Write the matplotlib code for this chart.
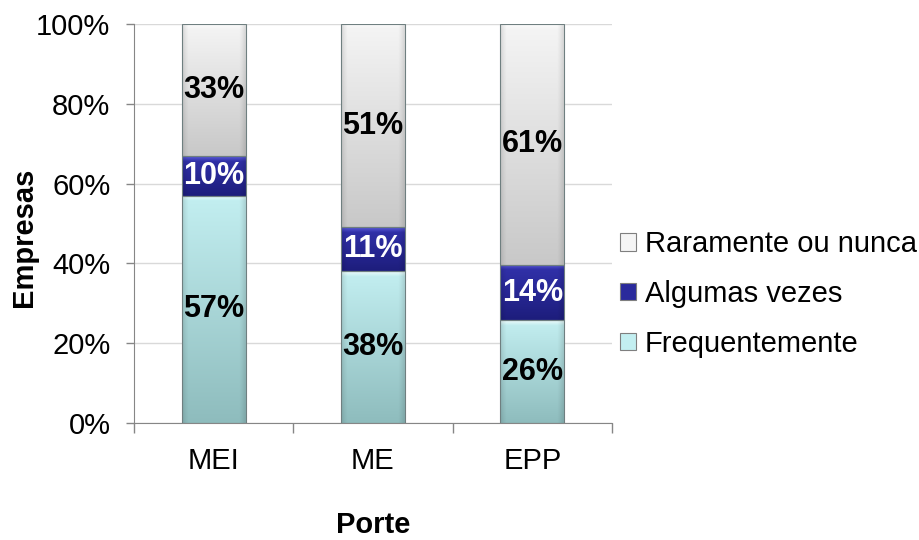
import numpy as np
import matplotlib
matplotlib.use('Agg')
import matplotlib.pyplot as plt
from matplotlib.colors import to_rgb
from matplotlib.patches import Patch, Rectangle

categories = ['MEI', 'ME', 'EPP']
frequentemente = [57, 38, 26]
algumas_vezes = [10, 11, 14]
raramente = [33, 51, 61]

series = [
    ('Frequentemente', frequentemente, '#8ebcbd', '#c3eff1', '#eefcfc', 'black'),
    ('Algumas vezes', algumas_vezes, '#1d1d7c', '#3232ac', '#5a5ad8', 'white'),
    ('Raramente ou nunca', raramente, '#c8c8c8', '#f5f5f5', '#fbfbfb', 'black'),
]

BAR_WIDTH = 0.4
FONT_SIZE = 21
LABEL_SIZE = 22
AXIS_GRAY = '#868686'

plt.rcParams['font.family'] = ['Liberation Sans', 'DejaVu Sans']


def draw_segment(ax, x, bottom, height, dark, light, hilite):
    # vertical gradient with a thin bevel highlight on top, like Excel's 3D bars
    rows = max(int(height * 10), 4)
    cols = 24
    y = np.linspace(0, 1, rows)[:, None]
    dark, light, hilite = map(np.array, (to_rgb(dark), to_rgb(light), to_rgb(hilite)))
    col = dark + (light - dark) * y
    top_dist = (1 - y) * height
    bevel = np.clip(1 - top_dist / 1.3, 0, 1)
    col = col * (1 - bevel) + hilite * bevel
    img = np.repeat(col[:, None, :], cols, axis=1)
    xs = np.linspace(-1, 1, cols)
    side = 1 - 0.10 * np.clip((np.abs(xs) - 0.85) / 0.15, 0, 1)
    img = np.clip(img * side[None, :, None], 0, 1)
    left = x - BAR_WIDTH / 2
    ax.imshow(img, extent=(left, left + BAR_WIDTH, bottom, bottom + height),
              origin='lower', aspect='auto', interpolation='bilinear', zorder=2)
    ax.add_patch(Rectangle((left, bottom), BAR_WIDTH, height, fill=False,
                           edgecolor='#6f7f80', linewidth=0.8, zorder=3))


def main():
    fig, ax = plt.subplots(figsize=(9.2, 5.4), dpi=100)
    fig.subplots_adjust(left=134 / 920, right=612 / 920, bottom=1 - 423 / 540, top=1 - 24 / 540)

    totals = np.sum([s[1] for s in series], axis=0)
    bottoms = np.zeros(len(categories))
    for name, values, dark, light, hilite, txt_color in series:
        shares = np.array(values) / totals * 100
        for i, (share, value) in enumerate(zip(shares, values)):
            draw_segment(ax, i, bottoms[i], share, dark, light, hilite)
            ax.text(i, bottoms[i] + share / 2, f'{value}%', ha='center', va='center',
                    fontsize=LABEL_SIZE, fontweight='bold', color=txt_color, zorder=4)
        bottoms += shares

    ax.set_xlim(-0.5, len(categories) - 0.5)
    ax.set_ylim(0, 100)

    ax.set_yticks(range(0, 101, 20))
    ax.set_yticklabels([f'{v}%' for v in range(0, 101, 20)], fontsize=FONT_SIZE)
    ax.set_xticks(range(len(categories)))
    ax.set_xticklabels(categories, fontsize=FONT_SIZE)
    ax.set_xticks(np.arange(-0.5, len(categories)), minor=True)
    ax.tick_params(axis='x', which='major', length=0, pad=17)
    ax.tick_params(axis='x', which='minor', length=7, color=AXIS_GRAY, width=1)
    ax.tick_params(axis='y', length=6, color=AXIS_GRAY, width=1, pad=11)

    ax.yaxis.grid(True, color='#d9d9d9', linewidth=1)
    ax.set_axisbelow(True)
    for side in ('top', 'right'):
        ax.spines[side].set_visible(False)
    for side in ('left', 'bottom'):
        ax.spines[side].set_color(AXIS_GRAY)

    ax.set_xlabel('Porte', fontsize=FONT_SIZE, fontweight='bold')
    ax.xaxis.set_label_coords(0.5, -0.221)
    ax.set_ylabel('Empresas', fontsize=FONT_SIZE, fontweight='bold')
    ax.yaxis.set_label_coords(-0.2, 0.466)

    handles = [Patch(facecolor=s[3] if s[0] != 'Algumas vezes' else '#2a2a9c',
                     edgecolor='#7f7f7f', linewidth=0.8, label=s[0]) for s in reversed(series)]
    fig.legend(handles=handles, loc='center left', bbox_to_anchor=(620 / 920, 1 - 294 / 540),
               frameon=False, fontsize=FONT_SIZE, handlelength=0.55, handleheight=0.55,
               handletextpad=0.3, labelspacing=0.75, borderpad=0, borderaxespad=0)

    fig.savefig('out.png', dpi=100)


if __name__ == '__main__':
    main()
